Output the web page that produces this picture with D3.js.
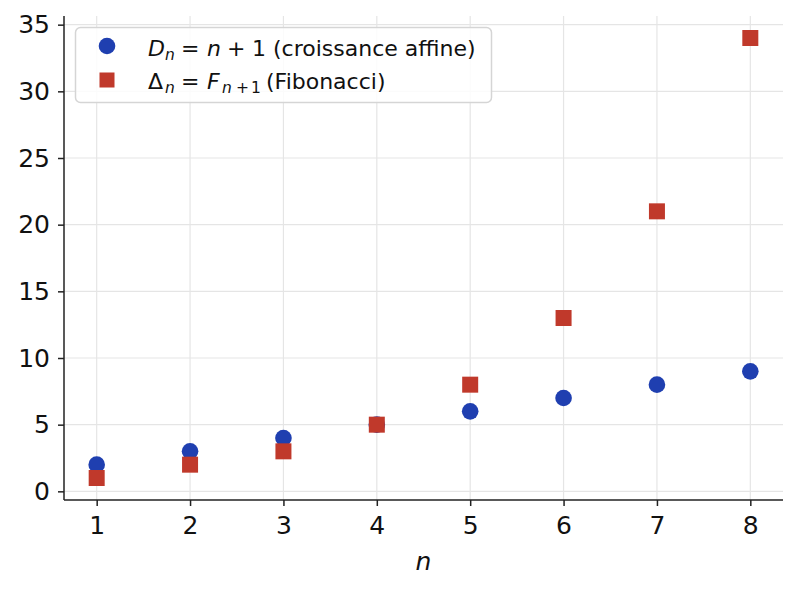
<!DOCTYPE html>
<html>
<head>
<meta charset="utf-8">
<script src="https://cdn.jsdelivr.net/npm/d3@7"></script>
<style>
  body { margin: 0; background: #fff; }
  svg { font-family: "DejaVu Sans", sans-serif; }
</style>
</head>
<body>
<script>
// data
const nValues = [1, 2, 3, 4, 5, 6, 7, 8];
const affine = [2, 3, 4, 5, 6, 7, 8, 9];          // D_n = n + 1
const fibo = [1, 2, 3, 5, 8, 13, 21, 34];         // Delta_n = F_{n+1}
const xTicks = [1, 2, 3, 4, 5, 6, 7, 8];
const yTicks = [0, 5, 10, 15, 20, 25, 30, 35];

const W = 799, H = 593;
const margin = { top: 16, right: 16, bottom: 93, left: 64 };
const width = W - margin.left - margin.right;
const height = H - margin.top - margin.bottom;

const blue = "#1f3fb0", red = "#c0392b";

const svg = d3.select("body").append("svg")
    .attr("width", W).attr("height", H);

const g = svg.append("g")
    .attr("transform", `translate(${margin.left},${margin.top})`);

const x = d3.scaleLinear().domain([0.65, 8.35]).range([0, width]);
const y = d3.scaleLinear().domain([-0.65, 35.65]).range([height, 0]);

// grid
g.append("g").selectAll("line").data(xTicks).enter().append("line")
    .attr("x1", d => x(d)).attr("x2", d => x(d))
    .attr("y1", 0).attr("y2", height)
    .attr("stroke", "#e5e5e5").attr("stroke-width", 1.2);
g.append("g").selectAll("line").data(yTicks).enter().append("line")
    .attr("y1", d => y(d)).attr("y2", d => y(d))
    .attr("x1", 0).attr("x2", width)
    .attr("stroke", "#e5e5e5").attr("stroke-width", 1.2);

// axes
const xAxis = g.append("g")
    .attr("transform", `translate(0,${height})`)
    .call(d3.axisBottom(x).tickValues(xTicks).tickSize(6).tickPadding(10).tickFormat(d3.format("d")));
const yAxis = g.append("g")
    .call(d3.axisLeft(y).tickValues(yTicks).tickSize(6).tickPadding(8).tickFormat(d3.format("d")));

[xAxis, yAxis].forEach(a => {
    a.select(".domain").attr("stroke", "#222").attr("stroke-width", 1.5);
    a.selectAll(".tick line").attr("stroke", "#222").attr("stroke-width", 1.5);
    a.selectAll(".tick text").attr("fill", "#111")
        .style("font-size", "25px").style("font-family", "DejaVu Sans, sans-serif");
});
// plain spines, no end caps
xAxis.select(".domain").attr("d", `M0,0H${width}`);
yAxis.select(".domain").attr("d", `M0,${height}V0`);

// points
g.append("g").selectAll("circle").data(nValues).enter().append("circle")
    .attr("cx", d => x(d))
    .attr("cy", (d, i) => y(affine[i]))
    .attr("r", 8.3)
    .attr("fill", blue);

const s = 16;
g.append("g").selectAll("rect").data(nValues).enter().append("rect")
    .attr("x", d => x(d) - s / 2)
    .attr("y", (d, i) => y(fibo[i]) - s / 2)
    .attr("width", s).attr("height", s)
    .attr("fill", red);

// x label
svg.append("text")
    .attr("x", margin.left + width / 2)
    .attr("y", 570)
    .attr("text-anchor", "middle")
    .style("font-size", "25px")
    .style("font-style", "italic")
    .attr("fill", "#111")
    .text("n");

// legend
const leg = svg.append("g");
leg.append("rect")
    .attr("x", 75.5).attr("y", 27.5).attr("width", 416).attr("height", 75)
    .attr("rx", 5)
    .attr("fill", "#fff").attr("fill-opacity", 0.85)
    .attr("stroke", "#d5d5d5").attr("stroke-width", 1.5);

leg.append("circle").attr("cx", 107).attr("cy", 46).attr("r", 8.3).attr("fill", blue);
leg.append("rect").attr("x", 99.5).attr("y", 72.5).attr("width", 15).attr("height", 15).attr("fill", red);

const fs = "22px", sub = "15.5px";
const t1 = leg.append("text").attr("y", 56).style("font-size", fs).attr("fill", "#111");
t1.append("tspan").attr("x", 148).style("font-style", "italic").text("D");
t1.append("tspan").attr("x", 165).attr("dy", 4).style("font-style", "italic").style("font-size", sub).text("n");
t1.append("tspan").attr("x", 181).attr("dy", -4).text("=");
t1.append("tspan").attr("x", 207).style("font-style", "italic").text("n");
t1.append("tspan").attr("x", 227).text("+");
t1.append("tspan").attr("x", 252).text("1 (croissance affine)");

const t2 = leg.append("text").attr("y", 89).style("font-size", fs).attr("fill", "#111");
t2.append("tspan").attr("x", 148).text("Δ");
t2.append("tspan").attr("x", 165).attr("dy", 4).style("font-style", "italic").style("font-size", sub).text("n");
t2.append("tspan").attr("x", 181).attr("dy", -4).text("=");
t2.append("tspan").attr("x", 207).style("font-style", "italic").text("F");
t2.append("tspan").attr("x", 222).attr("dy", 4).style("font-style", "italic").style("font-size", sub).text("n");
t2.append("tspan").attr("x", 236).style("font-size", sub).text("+");
t2.append("tspan").attr("x", 251).style("font-size", sub).text("1");
t2.append("tspan").attr("x", 266).attr("dy", -4).text("(Fibonacci)");
</script>
</body>
</html>
